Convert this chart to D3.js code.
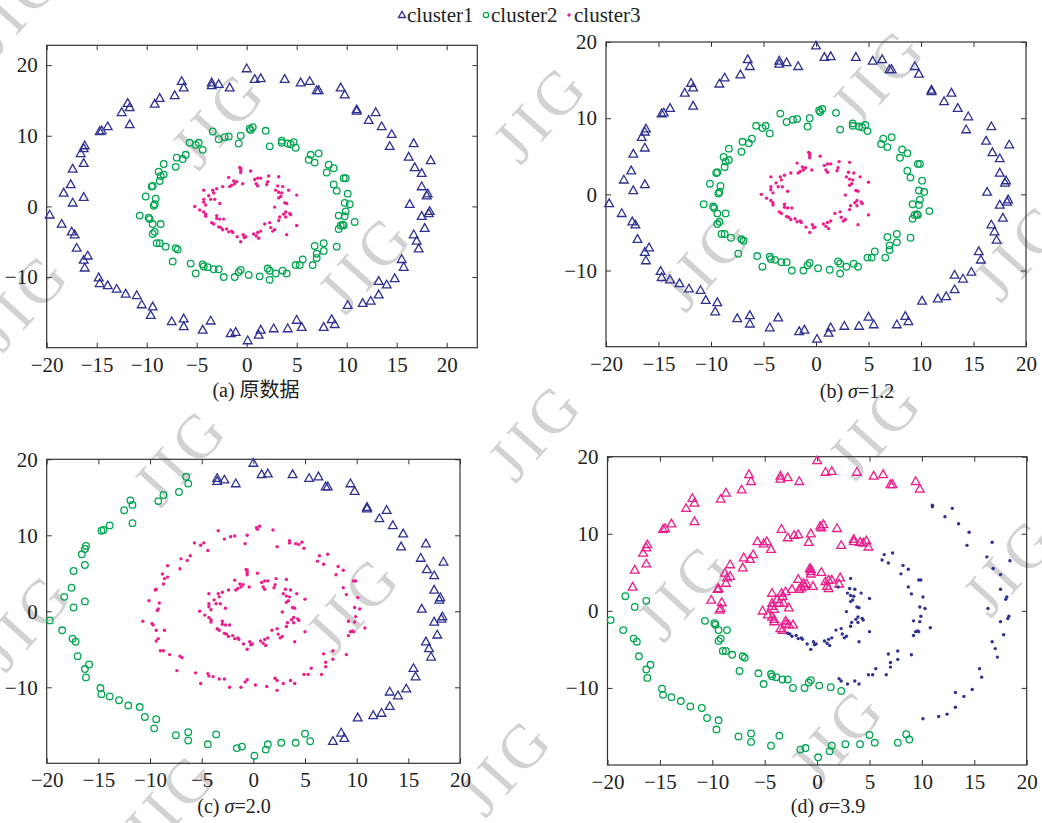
<!DOCTYPE html>
<html>
<head>
<meta charset="utf-8">
<script src="https://cdn.jsdelivr.net/npm/d3@7"></script>
<style>
  body { margin: 0; background: #fff; }
  text { font-family: "Liberation Serif", "DejaVu Serif", "Noto Sans CJK SC", serif; }
</style>
</head>
<body>
<svg width="1042" height="823"></svg>
<script>
const svg = d3.select('svg');

// outer ring
const outerRing = [
  [-19.7,-1.2],[-18.5,-2.5],[-17.5,-3.6],[-17.2,-4.0],[-17.0,-5.9],[-16.3,-7.6],[-15.9,-7.0],[-16.2,-8.7],
  [-14.8,-10.1],[-14.7,-10.9],[-13.9,-11.2],[-13.0,-11.7],[-12.1,-12.4],[-11.0,-12.6],[-10.5,-13.9],[-9.4,-14.2],
  [-9.6,-15.4],[-7.5,-16.3],[-6.3,-15.9],[-6.3,-17.0],[-4.4,-17.5],[-3.6,-16.2],[-1.6,-18.0],[-1.1,-17.8],
  [0.1,-19.0],[1.2,-18.2],[1.4,-17.5],[2.7,-17.3],[4.1,-17.3],[5.0,-16.1],[5.5,-17.1],[7.7,-17.1],
  [8.5,-16.0],[8.8,-16.7],[10.1,-14.0],[11.6,-13.7],[12.4,-13.4],[13.2,-12.5],[13.2,-10.6],[14.0,-11.1],
  [14.8,-10.2],[15.5,-7.5],[15.7,-8.6],[17.2,-6.0],[17.0,-4.9],[16.7,-4.0],[17.8,-3.1],[17.5,-1.4],
  [18.2,-1.0],[18.3,-0.7],[16.3,0.3],[18.0,1.5],[18.1,1.8],[17.5,2.8],[17.5,4.7],[16.8,5.5],
  [18.4,6.5],[16.2,7.0],[16.7,8.9],[14.3,8.5],[14.5,10.2],[13.5,11.3],[12.2,12.2],[12.9,13.3],
  [11.0,13.5],[11.0,13.7],[9.8,15.8],[9.4,16.8],[7.0,16.4],[7.2,16.4],[6.3,17.7],[5.4,17.5],
  [3.8,18.0],[1.4,18.1],[0.8,18.0],[0.0,19.5],[-1.7,16.8],[-2.8,17.3],[-3.5,17.5],[-3.5,17.1],
  [-6.3,16.8],[-6.5,17.7],[-7.2,15.7],[-8.7,15.3],[-9.2,14.5],[-11.7,11.6],[-11.7,14.0],[-11.9,14.6],
  [-12.5,13.3],[-13.9,11.3],[-14.7,10.6],[-14.5,10.7],[-16.2,8.6],[-16.3,8.2],[-16.6,7.5],[-16.3,6.1],
  [-17.4,5.3],[-17.6,3.1],[-18.3,1.9],[-16.3,1.3],[-17.4,0.5]
];

// middle ring
const middleRing = [
  [-10.1,1.4],[-10.7,-1.3],[-9.8,-1.6],[-9.7,-1.8],[-9.4,-2.5],[-8.6,-2.5],[-9.2,-3.6],[-9.4,-3.9],
  [-9.0,-5.2],[-8.7,-5.2],[-8.1,-5.7],[-7.1,-5.9],[-6.9,-6.1],[-7.4,-7.8],[-5.6,-8.1],[-5.1,-9.5],
  [-4.4,-8.2],[-4.3,-8.5],[-3.9,-8.6],[-3.3,-8.9],[-2.8,-8.9],[-2.3,-10.0],[-1.2,-10.0],[-0.8,-9.3],
  [-0.6,-9.0],[0.2,-9.7],[1.3,-9.9],[2.1,-8.8],[2.3,-9.1],[2.3,-10.4],[2.9,-9.5],[3.6,-9.1],
  [4.0,-9.5],[4.9,-8.3],[5.3,-8.3],[5.6,-7.5],[6.6,-8.3],[7.0,-7.3],[7.0,-6.7],[6.8,-5.6],
  [7.7,-5.2],[7.7,-6.3],[9.0,-5.7],[9.2,-3.2],[9.4,-2.7],[9.6,-2.6],[9.7,-2.7],[10.8,-2.2],
  [9.2,-1.3],[9.8,-1.4],[9.9,-0.7],[9.8,0.5],[10.3,0.3],[10.1,1.8],[9.0,2.2],[8.7,3.1],
  [9.7,4.0],[9.9,4.0],[8.0,4.8],[8.2,5.9],[8.7,5.4],[6.8,6.2],[6.2,6.6],[6.4,7.3],
  [7.2,7.5],[4.9,8.3],[4.7,9.1],[4.4,8.8],[4.1,8.9],[3.5,9.0],[3.5,9.3],[2.3,8.5],
  [1.9,10.7],[0.6,11.2],[0.3,11.0],[0.4,10.8],[-0.6,10.0],[-0.8,8.9],[-1.8,9.9],[-2.2,9.8],
  [-2.8,9.5],[-3.4,10.6],[-4.4,8.0],[-4.8,9.0],[-5.1,8.7],[-5.7,9.0],[-6.1,7.3],[-6.4,6.7],
  [-7.0,6.9],[-7.1,5.6],[-8.3,6.0],[-8.3,4.5],[-8.6,4.3],[-8.8,4.9],[-8.7,3.6],[-9.4,2.9],
  [-9.5,2.8],[-9.1,1.1],[-9.2,0.3],[-9.3,0.1]
];

// inner ring
const innerRing = [
  [-5.2,0.0],[-4.3,2.3],[-4.3,1.0],[-4.3,0.6],[-4.1,0.2],[-4.7,-0.5],[-4.3,-0.8],[-4.1,-1.1],
  [-4.1,-1.4],[-3.8,1.5],[-3.6,1.0],[-3.4,2.3],[-3.3,1.9],[-3.2,1.0],[-3.0,2.5],[-2.7,0.4],
  [-2.4,2.8],[-3.5,-2.3],[-3.3,-2.5],[-3.0,-1.3],[-3.0,-1.7],[-2.7,-1.8],[-2.8,-2.9],[-2.6,-3.0],
  [-2.3,-1.8],[-2.4,-3.3],[-2.0,-3.2],[-1.8,4.1],[-1.7,2.8],[-1.5,3.0],[-1.3,3.6],[-1.2,3.2],
  [-1.0,3.5],[-0.7,5.5],[-0.6,5.1],[-0.4,3.2],[-1.8,-3.6],[-1.5,-3.5],[-1.4,-3.7],[-0.95,-4.3],
  [-0.6,-5.0],[-0.35,-4.0],[-0.25,-4.4],[-0.1,-4.3],[0.4,5.0],[0.8,3.8],[0.95,3.2],[1.1,2.9],
  [1.4,4.0],[1.1,4.0],[0.7,-3.9],[0.95,-4.2],[1.1,-3.7],[1.2,-4.5],[1.4,-3.5],[1.8,-2.5],
  [2.1,3.5],[2.2,4.3],[2.0,3.1],[2.3,-2.3],[2.4,-3.0],[2.6,-3.5],[2.8,-3.3],[2.9,2.3],
  [3.2,4.2],[3.1,2.9],[3.2,2.0],[2.8,-0.1],[3.2,-2.0],[3.3,-1.5],[3.2,1.2],[3.4,1.4],
  [3.6,2.8],[3.5,1.9],[3.7,-1.1],[3.8,0.5],[4.0,0.4],[4.2,2.3],[3.9,-0.8],[4.3,-1.0],
  [4.4,-1.2],[3.9,-1.5],[4.0,-4.0],[5.0,-2.7],[5.0,1.6],[-0.6,5.4],[-0.6,4.8]
];

// which marker each ring gets in each panel: [from angle, to angle, marker]
const sectorsA = { outer: [[-180,180,'triBlue']], middle: [[-180,180,'circGreen']], inner: [[-180,180,'dotMagenta']] };
const sectorsB = { outer: [[-180,180,'triBlue']], middle: [[-180,180,'circGreen']], inner: [[-180,180,'dotMagenta']] };
const sectorsC = {
  outer: [[-180,-69,'circGreen'],[-69,105,'triBlue'],[105,180,'circGreen']],
  middle: [[-180,180,'dotMagenta']],
  inner: [[-180,180,'dotMagenta']]
};
const sectorsD = {
  outer: [[-180,-58,'circGreen'],[-58,55,'dotBlue'],[55,172,'triMagenta'],[172,180,'circGreen']],
  middle: [[-180,-77,'circGreen'],[-77,55,'dotBlue'],[55,180,'triMagenta']],
  inner: [[-180,-138,'triMagenta'],[-138,58,'dotBlue'],[58,180,'triMagenta']]
};

const xTicks = [-20, -15, -10, -5, 0, 5, 10, 15, 20];
const yTicks = [-10, 0, 10, 20];
const legendItems = [
  { label: 'cluster1', marker: 'triBlue' },
  { label: 'cluster2', marker: 'circGreen' },
  { label: 'cluster3', marker: 'dotMagenta' }
];

const blue = '#2e3192', green = '#00a650', magenta = '#ec1c8c';
const triPath = s => `M0,${-s} L${s * 0.95},${s * 0.68} L${-s * 0.95},${s * 0.68} Z`;

const drawMarker = (sel, marker, x, y, scale = 1) => {
  if (marker.startsWith('tri')) {
    sel.append('path').attr('d', triPath(4.6 * scale))
      .attr('transform', `translate(${x},${y})`)
      .attr('fill', 'none').attr('stroke', marker === 'triBlue' ? blue : magenta).attr('stroke-width', 1.3);
  } else if (marker === 'circGreen') {
    sel.append('circle').attr('cx', x).attr('cy', y).attr('r', 3.3 * scale)
      .attr('fill', 'none').attr('stroke', green).attr('stroke-width', 1.3);
  } else {
    sel.append('circle').attr('cx', x).attr('cy', y).attr('r', 1.7)
      .attr('fill', marker === 'dotBlue' ? blue : magenta);
  }
};

// watermark, as in the reference it runs off the page edges
const marks = [[15,5],[218,118],[365,262],[540,112],[22,300],[705,260],[878,75],[1020,250],[875,428],
  [535,430],[180,455],[25,620],[353,603],[683,590],[1010,565],[837,735],[505,765],[170,800]];
svg.append('g').selectAll('text').data(marks).join('text')
  .attr('transform', d => `translate(${d[0]},${d[1]}) rotate(-48)`)
  .attr('text-anchor', 'middle').attr('dy', '0.35em')
  .attr('font-size', 62).attr('letter-spacing', 6)
  .attr('fill', '#d2d2d2')
  .text('JIG');

const panels = [
  { left: 46.7, right: 477.3, top: 45.3, bottom: 347.7, xDomain: [-20, 23.06], yDomain: [-20, 22.8],
    sectors: sectorsA, cap: '(a) 原数据', capX: 256, capY: 397 },
  { left: 606, right: 1026, top: 42, bottom: 346.7, xDomain: [-20, 20], yDomain: [-20, 20],
    sectors: sectorsB, cap: '(b)', sigma: '1.2', capX: 857, capY: 398 },
  { left: 46.7, right: 460, top: 459.3, bottom: 763.3, xDomain: [-20, 20], yDomain: [-20, 20],
    sectors: sectorsC, cap: '(c)', sigma: '2.0', capX: 234, capY: 813 },
  { left: 607.5, right: 1026.7, top: 456.7, bottom: 765, xDomain: [-20, 20], yDomain: [-20, 20],
    sectors: sectorsD, cap: '(d)', sigma: '3.9', capX: 828, capY: 813 }
];

const markerFor = (sectors, p) => {
  const a = Math.atan2(p[1], p[0]) * 180 / Math.PI;
  const s = sectors.find(s => a >= s[0] && a <= s[1]);
  return s[2];
};

const styleAxis = g => {
  g.select('.domain').remove();
  g.selectAll('line').attr('stroke', '#333');
  g.selectAll('text').attr('font-size', 21).attr('fill', '#222')
    .style('font-family', '"Liberation Serif", serif');
};

const drawPanel = p => {
  const xScale = d3.scaleLinear().domain(p.xDomain).range([p.left, p.right]);
  const yScale = d3.scaleLinear().domain(p.yDomain).range([p.bottom, p.top]);
  const g = svg.append('g');

  g.append('g').attr('transform', `translate(0,${p.bottom})`)
    .call(d3.axisBottom(xScale).tickValues(xTicks).tickSize(-5).tickPadding(9)).call(styleAxis);
  g.append('g').attr('transform', `translate(${p.left},0)`)
    .call(d3.axisLeft(yScale).tickValues(yTicks).tickSize(-5).tickPadding(9)).call(styleAxis);
  g.append('g').attr('transform', `translate(0,${p.top})`)
    .call(d3.axisTop(xScale).tickValues(xTicks).tickSize(-5).tickFormat('')).call(styleAxis);
  g.append('g').attr('transform', `translate(${p.right},0)`)
    .call(d3.axisRight(yScale).tickValues(yTicks).tickSize(-5).tickFormat('')).call(styleAxis);

  g.append('rect')
    .attr('x', p.left).attr('y', p.top)
    .attr('width', p.right - p.left).attr('height', p.bottom - p.top)
    .attr('fill', 'none').attr('stroke', '#333').attr('stroke-width', 1.2);

  const pts = g.append('g');
  [['outer', outerRing], ['middle', middleRing], ['inner', innerRing]].forEach(([ring, data]) => {
    data.forEach(d => drawMarker(pts, markerFor(p.sectors[ring], d), xScale(d[0]), yScale(d[1])));
  });

  const cap = g.append('text').attr('x', p.capX).attr('y', p.capY)
    .attr('text-anchor', 'middle').attr('font-size', 20).attr('fill', '#222');
  if (p.sigma) {
    cap.append('tspan').text(p.cap + ' ');
    cap.append('tspan').attr('font-style', 'italic').text('σ');
    cap.append('tspan').text('=' + p.sigma);
  } else {
    cap.text(p.cap);
  }
};

panels.forEach(drawPanel);

// legend
const legendX = [402, 486, 569];
const legend = svg.append('g');
legendItems.forEach((item, i) => {
  drawMarker(legend, item.marker, legendX[i], 15, 0.8);
  legend.append('text').attr('x', legendX[i] + 5).attr('y', 22)
    .attr('font-size', 21).attr('fill', '#222').text(item.label);
});
</script>
</body>
</html>
